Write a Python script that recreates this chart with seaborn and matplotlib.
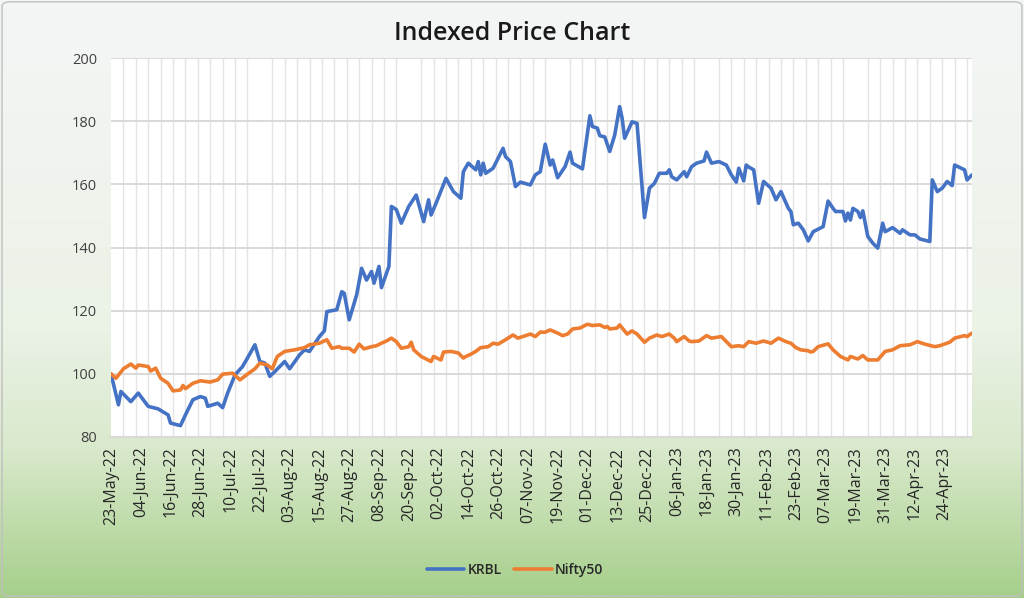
import numpy as np
import pandas as pd
import seaborn as sns
import matplotlib.pyplot as plt
from matplotlib.lines import Line2D
from matplotlib.patches import FancyBboxPatch
from matplotlib.colors import LinearSegmentedColormap

# Indexed prices (base 100 on 23-May-22)
krbl_dates = [
    "2022-05-23", "2022-05-26", "2022-05-27", "2022-05-31", "2022-06-03", "2022-06-07",
    "2022-06-11", "2022-06-15", "2022-06-16", "2022-06-20", "2022-06-22", "2022-06-25",
    "2022-06-28", "2022-06-30", "2022-07-01", "2022-07-05", "2022-07-07", "2022-07-09",
    "2022-07-12", "2022-07-15", "2022-07-17", "2022-07-20", "2022-07-22", "2022-07-24",
    "2022-07-26", "2022-07-28", "2022-08-01", "2022-08-03", "2022-08-07", "2022-08-09",
    "2022-08-11", "2022-08-15", "2022-08-17", "2022-08-18", "2022-08-22", "2022-08-24",
    "2022-08-25", "2022-08-27", "2022-08-30", "2022-09-01", "2022-09-03", "2022-09-05",
    "2022-09-06", "2022-09-08", "2022-09-09", "2022-09-12", "2022-09-13", "2022-09-15",
    "2022-09-17", "2022-09-20", "2022-09-23", "2022-09-26", "2022-09-28", "2022-09-29",
    "2022-10-01", "2022-10-05", "2022-10-06", "2022-10-08", "2022-10-11", "2022-10-12",
    "2022-10-14", "2022-10-17", "2022-10-18", "2022-10-19", "2022-10-20", "2022-10-21",
    "2022-10-24", "2022-10-28", "2022-10-29", "2022-10-31", "2022-11-02", "2022-11-04",
    "2022-11-08", "2022-11-10", "2022-11-12", "2022-11-14", "2022-11-16", "2022-11-17",
    "2022-11-19", "2022-11-22", "2022-11-24", "2022-11-25", "2022-11-29", "2022-12-02",
    "2022-12-03", "2022-12-05", "2022-12-06", "2022-12-08", "2022-12-10", "2022-12-12",
    "2022-12-14", "2022-12-15", "2022-12-16", "2022-12-19", "2022-12-21", "2022-12-24",
    "2022-12-26", "2022-12-28", "2022-12-30", "2023-01-02", "2023-01-03", "2023-01-04",
    "2023-01-06", "2023-01-09", "2023-01-10", "2023-01-12", "2023-01-14", "2023-01-17",
    "2023-01-18", "2023-01-20", "2023-01-23", "2023-01-26", "2023-01-28", "2023-01-30",
    "2023-01-31", "2023-02-02", "2023-02-03", "2023-02-04", "2023-02-06", "2023-02-08",
    "2023-02-10", "2023-02-13", "2023-02-15", "2023-02-17", "2023-02-20", "2023-02-21",
    "2023-02-22", "2023-02-24", "2023-02-26", "2023-02-28", "2023-03-02", "2023-03-06",
    "2023-03-08", "2023-03-10", "2023-03-11", "2023-03-14", "2023-03-15", "2023-03-16",
    "2023-03-17", "2023-03-18", "2023-03-20", "2023-03-21", "2023-03-22", "2023-03-24",
    "2023-03-26", "2023-03-28", "2023-03-30", "2023-03-31", "2023-04-03", "2023-04-06",
    "2023-04-07", "2023-04-10", "2023-04-12", "2023-04-14", "2023-04-18", "2023-04-19",
    "2023-04-21", "2023-04-23", "2023-04-25", "2023-04-27", "2023-04-28", "2023-05-02",
    "2023-05-03", "2023-05-05",
]
krbl_values = [
    100.0, 90.2, 94.4, 91.2, 93.9, 89.7,
    88.9, 87.0, 84.4, 83.6, 87.0, 91.8,
    92.8, 92.3, 89.7, 90.7, 89.3, 93.9,
    99.7, 102.3, 105.0, 109.2, 103.9, 103.4,
    99.2, 100.7, 103.9, 101.6, 106.0, 107.6,
    107.1, 111.8, 113.6, 119.7, 120.3, 126.0,
    125.5, 117.1, 125.0, 133.4, 129.7, 132.4,
    128.7, 134.0, 127.3, 134.0, 153.0, 152.0,
    147.7, 153.0, 156.6, 148.2, 155.1, 150.3,
    154.0, 161.9, 160.5, 157.7, 155.6, 164.0,
    166.7, 164.6, 167.2, 163.0, 166.7, 163.5,
    165.1, 171.4, 168.8, 167.2, 159.3, 160.7,
    159.8, 163.0, 164.0, 172.7, 166.1, 167.7,
    162.1, 165.6, 170.2, 166.7, 164.9, 181.7,
    178.3, 177.8, 175.4, 175.0, 170.4, 175.6,
    184.6, 180.9, 174.6, 179.8, 179.3, 149.5,
    158.8, 160.3, 163.5, 163.5, 164.6, 162.4,
    161.4, 164.0, 162.4, 165.6, 166.7, 167.4,
    170.2, 166.7, 167.2, 166.1, 163.0, 160.7,
    165.1, 161.1, 166.1, 165.5, 164.6, 154.0,
    160.9, 158.8, 155.1, 157.7, 152.4, 151.4,
    147.2, 147.7, 145.6, 142.1, 145.0, 146.6,
    154.7, 152.4, 151.4, 151.4, 148.4, 150.9,
    148.7, 152.4, 151.4, 149.5, 151.6, 143.5,
    141.4, 139.8, 147.7, 145.0, 146.3, 144.5,
    145.6, 144.0, 144.0, 142.7, 141.9, 161.4,
    157.7, 158.8, 160.9, 159.6, 166.1, 164.6,
    161.4, 163.0,
]

nifty_dates = [
    "2022-05-23", "2022-05-25", "2022-05-28", "2022-05-31", "2022-06-02", "2022-06-03",
    "2022-06-07", "2022-06-08", "2022-06-10", "2022-06-12", "2022-06-15", "2022-06-17",
    "2022-06-20", "2022-06-21", "2022-06-22", "2022-06-25", "2022-06-28", "2022-07-02",
    "2022-07-05", "2022-07-07", "2022-07-11", "2022-07-14", "2022-07-17", "2022-07-20",
    "2022-07-22", "2022-07-25", "2022-07-27", "2022-07-29", "2022-08-01", "2022-08-05",
    "2022-08-09", "2022-08-11", "2022-08-15", "2022-08-18", "2022-08-20", "2022-08-23",
    "2022-08-24", "2022-08-27", "2022-08-29", "2022-08-31", "2022-09-02", "2022-09-05",
    "2022-09-07", "2022-09-09", "2022-09-11", "2022-09-13", "2022-09-15", "2022-09-17",
    "2022-09-20", "2022-09-21", "2022-09-22", "2022-09-25", "2022-09-29", "2022-09-30",
    "2022-10-03", "2022-10-04", "2022-10-07", "2022-10-10", "2022-10-12", "2022-10-13",
    "2022-10-15", "2022-10-17", "2022-10-19", "2022-10-22", "2022-10-24", "2022-10-26",
    "2022-10-29", "2022-11-01", "2022-11-03", "2022-11-06", "2022-11-08", "2022-11-10",
    "2022-11-12", "2022-11-14", "2022-11-16", "2022-11-19", "2022-11-21", "2022-11-23",
    "2022-11-25", "2022-11-28", "2022-12-01", "2022-12-03", "2022-12-06", "2022-12-08",
    "2022-12-09", "2022-12-10", "2022-12-13", "2022-12-14", "2022-12-17", "2022-12-19",
    "2022-12-21", "2022-12-24", "2022-12-26", "2022-12-29", "2022-12-31", "2023-01-03",
    "2023-01-05", "2023-01-06", "2023-01-09", "2023-01-11", "2023-01-12", "2023-01-15",
    "2023-01-18", "2023-01-20", "2023-01-24", "2023-01-28", "2023-01-31", "2023-02-02",
    "2023-02-04", "2023-02-07", "2023-02-10", "2023-02-13", "2023-02-16", "2023-02-19",
    "2023-02-21", "2023-02-23", "2023-02-25", "2023-02-28", "2023-03-01", "2023-03-02",
    "2023-03-04", "2023-03-08", "2023-03-10", "2023-03-13", "2023-03-16", "2023-03-17",
    "2023-03-20", "2023-03-22", "2023-03-24", "2023-03-28", "2023-03-31", "2023-04-03",
    "2023-04-06", "2023-04-10", "2023-04-13", "2023-04-16", "2023-04-20", "2023-04-22",
    "2023-04-26", "2023-04-28", "2023-05-02", "2023-05-03", "2023-05-05",
]
nifty_values = [
    100.0, 98.6, 101.6, 103.1, 101.8, 102.8,
    102.3, 100.9, 101.8, 98.6, 97.0, 94.6,
    94.9, 96.3, 95.3, 97.0, 97.8, 97.4,
    98.1, 99.9, 100.2, 98.1, 99.9, 101.6,
    103.4, 102.8, 101.6, 105.5, 107.1, 107.6,
    108.3, 109.2, 109.7, 110.8, 108.1, 108.6,
    108.1, 108.1, 106.9, 109.4, 107.9, 108.6,
    108.9, 109.7, 110.4, 111.3, 110.2, 108.1,
    108.6, 110.0, 107.6, 105.5, 103.9, 105.5,
    104.4, 106.9, 107.1, 106.6, 105.0, 105.5,
    106.2, 107.1, 108.3, 108.6, 109.7, 109.4,
    110.8, 112.3, 111.3, 112.1, 112.6, 111.8,
    113.2, 113.2, 113.9, 112.9, 112.1, 112.6,
    114.2, 114.5, 115.7, 115.3, 115.5, 114.7,
    115.0, 114.2, 114.5, 115.5, 112.6, 113.6,
    112.6, 110.0, 111.3, 112.3, 111.8, 112.6,
    111.3, 110.2, 111.8, 110.4, 110.2, 110.4,
    112.1, 111.3, 111.8, 108.6, 108.9, 108.6,
    110.2, 109.7, 110.4, 109.7, 111.3, 110.2,
    109.7, 108.3, 107.6, 107.3, 106.9, 107.1,
    108.6, 109.5, 107.6, 105.5, 104.4, 105.5,
    104.7, 105.8, 104.4, 104.4, 107.1, 107.6,
    108.9, 109.2, 110.2, 109.4, 108.6, 108.9,
    110.0, 111.3, 112.1, 111.8, 112.9,
]

series_names = ["KRBL", "Nifty50"]
series_colors = ["#4472C4", "#ED7D31"]
y_ticks = [80, 100, 120, 140, 160, 180, 200]
x_start, x_end = "2022-05-23", "2023-05-05"

df = pd.concat([
    pd.DataFrame({"Date": pd.to_datetime(krbl_dates), "Index": krbl_values, "Series": "KRBL"}),
    pd.DataFrame({"Date": pd.to_datetime(nifty_dates), "Index": nifty_values, "Series": "Nifty50"}),
])

sns.set_style("white")
plt.rcParams["font.family"] = ["Open Sans", "DejaVu Sans"]

fig = plt.figure(figsize=(10.24, 5.98), dpi=100)

# background gradient (white -> light green)
bg = fig.add_axes([0, 0, 1, 1], zorder=-10)
cmap = LinearSegmentedColormap.from_list(
    "bg", [(0, "#f4f6f6"), (0.55, "#ebf2e6"), (0.75, "#d9e9cc"), (1, "#a6cf8a")])
bg.imshow(np.linspace(0, 1, 256).reshape(-1, 1), aspect="auto", cmap=cmap,
          extent=[0, 1, 0, 1], origin="upper")
bg.axis("off")
fig.patches.append(FancyBboxPatch((0.002, 0.003), 0.996, 0.994,
                                  boxstyle="round,pad=0,rounding_size=0.008",
                                  transform=fig.transFigure, fill=False,
                                  ec="#bfbfbf", lw=1))

ax = fig.add_axes([111 / 1024, 1 - 437 / 598, 861 / 1024, 379 / 598])
ax.set_facecolor("white")

sns.lineplot(data=df, x="Date", y="Index", hue="Series",
             palette=dict(zip(series_names, series_colors)),
             estimator=None, linewidth=2.6, legend=False, ax=ax)

ax.set_xlim(pd.Timestamp(x_start), pd.Timestamp(x_end))
ax.set_ylim(80, 200)
ax.set_yticks(y_ticks)

major = pd.date_range(x_start, x_end, freq="12D")
minor = pd.date_range(x_start, x_end, freq="5D")
ax.set_xticks(major)
ax.set_xticklabels([d.strftime("%d-%b-%y") for d in major], rotation=90,
                   fontsize=11.5, color="#262626")
ax.set_xticks(minor, minor=True)

ax.set_axisbelow(True)
ax.grid(which="minor", axis="x", color="#e4e4e4", lw=1.0)
ax.grid(which="major", axis="y", color="#d9d9d9", lw=1.4)
ax.grid(which="major", axis="x", visible=False)

ax.tick_params(axis="x", which="major", length=4, color="#bfbfbf", width=1, pad=3)
ax.tick_params(axis="x", which="minor", length=0)
ax.tick_params(axis="y", length=0, labelsize=10.5, labelcolor="#404040", pad=10)

for side in ["top", "right", "left"]:
    ax.spines[side].set_visible(False)
ax.spines["bottom"].set_color("#d9d9d9")
ax.spines["bottom"].set_linewidth(1.4)

ax.set_xlabel("")
ax.set_ylabel("")

fig.text(0.5, 1 - 33 / 598, "Indexed Price Chart", ha="center", va="center",
         fontsize=18, fontweight="semibold", color="#1a1a1a")

handles = [Line2D([], [], color=c, lw=2.6) for c in series_colors]
fig.legend(handles, series_names, loc="center", bbox_to_anchor=(0.503, 1 - 570 / 598),
           ncol=2, frameon=False, handlelength=2.7,
           handletextpad=0.25, columnspacing=0.9,
           prop={"size": 10, "weight": "semibold"})

fig.savefig("out.png", dpi=100)
